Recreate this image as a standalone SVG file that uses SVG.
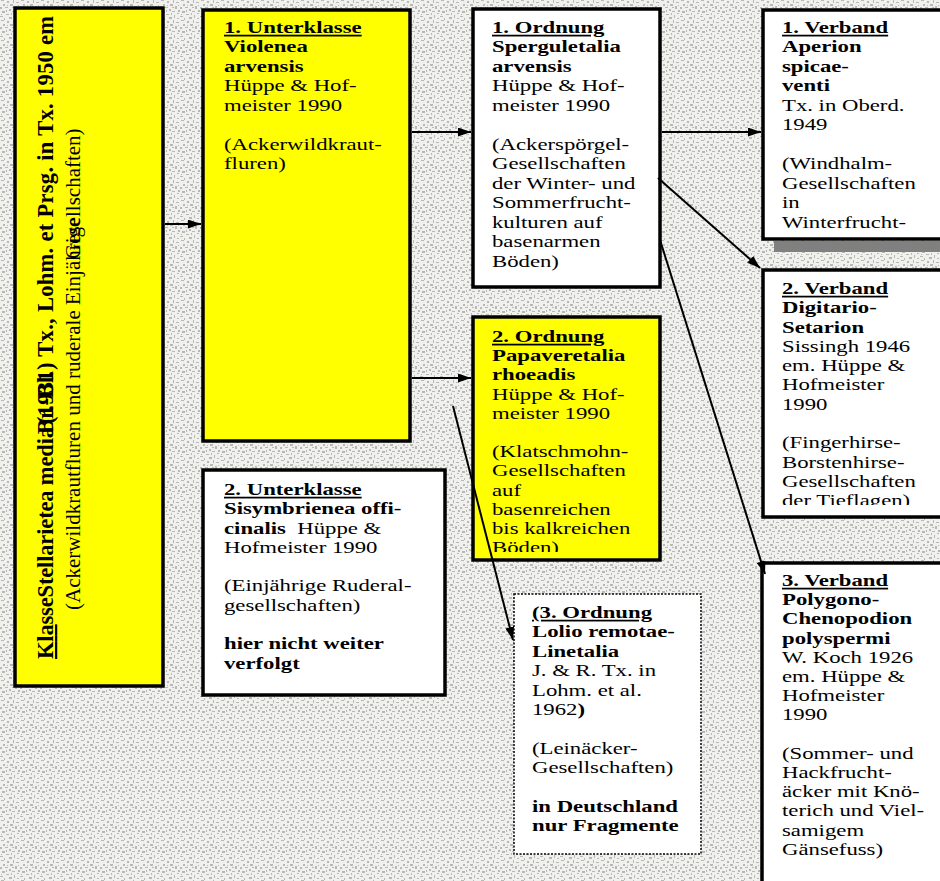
<svg xmlns="http://www.w3.org/2000/svg" width="940" height="881" viewBox="0 0 940 881">
<style>
.t{font-family:"Liberation Serif","Times New Roman",serif;font-size:17.5px;fill:#000}
.r{font-size:22.5px}
.n{font-size:21px}
.b{font-weight:bold}
.u{text-decoration:underline}
.box{stroke:#000;stroke-width:3.5}
.y{fill:#ffff00}
.w{fill:#ffffff}
.conn line{stroke:#000;stroke-width:2;fill:none;marker-end:url(#ah)}
</style>
<defs>
<pattern id="bg" width="20" height="20" patternUnits="userSpaceOnUse">
<rect width="20" height="20" fill="#f0f0ee"/>
<g fill="#b9b9b1">
<rect x="1" y="0" width="3" height="1"/><rect x="7" y="1" width="2" height="2"/><rect x="13" y="0" width="1" height="3"/>
<rect x="16" y="2" width="3" height="1"/><rect x="3" y="4" width="2" height="2"/><rect x="10" y="4" width="3" height="2"/>
<rect x="0" y="7" width="2" height="2"/><rect x="5" y="7" width="3" height="1"/><rect x="15" y="6" width="2" height="3"/>
<rect x="9" y="9" width="2" height="2"/><rect x="2" y="11" width="3" height="2"/><rect x="12" y="11" width="3" height="1"/>
<rect x="18" y="10" width="2" height="2"/><rect x="6" y="14" width="3" height="1"/><rect x="14" y="15" width="1" height="3"/>
<rect x="0" y="16" width="3" height="1"/><rect x="9" y="17" width="3" height="2"/><rect x="17" y="18" width="2" height="1"/>
<rect x="4" y="18" width="1" height="2"/><rect x="11" y="13" width="1" height="2"/><rect x="7" y="5" width="1" height="1"/>
<rect x="17" y="13" width="2" height="1"/><rect x="1" y="14" width="1" height="1"/><rect x="12" y="7" width="2" height="1"/>
<rect x="6" y="10" width="1" height="2"/><rect x="18" y="5" width="1" height="1"/>
</g>
</pattern>
<marker id="ah" markerUnits="userSpaceOnUse" markerWidth="13" markerHeight="9" refX="13" refY="4.5" orient="auto">
<path d="M0,0 L13,4.5 L0,9 z" fill="#000"/>
</marker>
<clipPath id="ck"><rect x="17" y="10" width="144" height="674"/></clipPath>
<clipPath id="cv2"><rect x="765" y="272" width="175" height="233"/></clipPath>
<clipPath id="co2"><rect x="475" y="319" width="183" height="233"/></clipPath>
</defs>
<rect width="940" height="881" fill="url(#bg)"/>

<g id="klasse">
<rect class="box y" x="15" y="8" width="148" height="678"/>
<g clip-path="url(#ck)">
<text class="t r b" transform="translate(53,659) rotate(-90)" textLength="232" lengthAdjust="spacing"><tspan class="u">Kla</tspan>sseStellarietea media</text>
<text class="t r b" transform="translate(53,434) rotate(-90)">Br.-Bl.</text>
<text class="t r b" transform="translate(53,424) rotate(-90)" textLength="408" lengthAdjust="spacing">(1931) Tx., Lohm. et Prsg. in Tx. 1950 em</text>
<text class="t n" transform="translate(80,610) rotate(-90)">(Ackerwildkrautfluren und ruderale Einjährige</text>
<text class="t n" transform="translate(80,259) rotate(-90)">Gesellschaften)</text>
</g>
</g>

<g id="unterklasse1">
<rect class="box y" x="203" y="10" width="207" height="431"/>
<text class="t" transform="translate(224,33) scale(1.3,1)">
<tspan x="0" class="b u">1. Unterklasse</tspan>
<tspan x="0" dy="19.5" class="b">Violenea</tspan>
<tspan x="0" dy="19.5" class="b">arvensis</tspan>
<tspan x="0" dy="19.5">Hüppe &amp; Hof-</tspan>
<tspan x="0" dy="19.5">meister 1990</tspan>
<tspan x="0" dy="39">(Ackerwildkraut-</tspan>
<tspan x="0" dy="19.5">fluren)</tspan>
</text>
</g>

<g id="ordnung1">
<rect class="box w" x="473" y="9" width="187" height="278"/>
<text class="t" transform="translate(492,33) scale(1.3,1)">
<tspan x="0" class="b u">1. Ordnung</tspan>
<tspan x="0" dy="19.5" class="b">Sperguletalia</tspan>
<tspan x="0" dy="19.5" class="b">arvensis</tspan>
<tspan x="0" dy="19.5">Hüppe &amp; Hof-</tspan>
<tspan x="0" dy="19.5">meister 1990</tspan>
<tspan x="0" dy="39">(Ackerspörgel-</tspan>
<tspan x="0" dy="19.5">Gesellschaften</tspan>
<tspan x="0" dy="19.5">der Winter- und</tspan>
<tspan x="0" dy="19.5">Sommerfrucht-</tspan>
<tspan x="0" dy="19.5">kulturen auf</tspan>
<tspan x="0" dy="19.5">basenarmen</tspan>
<tspan x="0" dy="19.5">Böden)</tspan>
</text>
</g>

<g id="verband1">
<rect x="774" y="241" width="180" height="11" fill="#808080"/>
<rect class="box w" x="763" y="10" width="200" height="229"/>
<text class="t" transform="translate(782,33) scale(1.3,1)">
<tspan x="0" class="b u">1. Verband</tspan>
<tspan x="0" dy="19.5" class="b">Aperion</tspan>
<tspan x="0" dy="19.5" class="b">spicae-</tspan>
<tspan x="0" dy="19.5" class="b">venti</tspan>
<tspan x="0" dy="19.5">Tx. in Oberd.</tspan>
<tspan x="0" dy="19.5">1949</tspan>
<tspan x="0" dy="39">(Windhalm-</tspan>
<tspan x="0" dy="19.5">Gesellschaften</tspan>
<tspan x="0" dy="19.5">in</tspan>
<tspan x="0" dy="19.5">Winterfrucht-</tspan>
</text>
</g>

<g id="verband2">
<rect class="box w" x="763" y="270" width="200" height="247"/>
<g clip-path="url(#cv2)">
<text class="t" transform="translate(782,294) scale(1.3,1)">
<tspan x="0" class="b u">2. Verband</tspan>
<tspan x="0" dy="19.3" class="b">Digitario-</tspan>
<tspan x="0" dy="19.3" class="b">Setarion</tspan>
<tspan x="0" dy="19.3">Sissingh 1946</tspan>
<tspan x="0" dy="19.3">em. Hüppe &amp;</tspan>
<tspan x="0" dy="19.3">Hofmeister</tspan>
<tspan x="0" dy="19.3">1990</tspan>
<tspan x="0" dy="38.6">(Fingerhirse-</tspan>
<tspan x="0" dy="19.3">Borstenhirse-</tspan>
<tspan x="0" dy="19.3">Gesellschaften</tspan>
<tspan x="0" dy="19.3">der Tieflagen)</tspan>
</text>
</g>
</g>

<g id="verband3">
<rect class="box w" x="762" y="563" width="200" height="340"/>
<text class="t" transform="translate(782,586) scale(1.3,1)">
<tspan x="0" class="b u">3. Verband</tspan>
<tspan x="0" dy="19.2" class="b">Polygono-</tspan>
<tspan x="0" dy="19.2" class="b">Chenopodion</tspan>
<tspan x="0" dy="19.2" class="b">polyspermi</tspan>
<tspan x="0" dy="19.2">W. Koch 1926</tspan>
<tspan x="0" dy="19.2">em. Hüppe &amp;</tspan>
<tspan x="0" dy="19.2">Hofmeister</tspan>
<tspan x="0" dy="19.2">1990</tspan>
<tspan x="0" dy="38.4">(Sommer- und</tspan>
<tspan x="0" dy="19.2">Hackfrucht-</tspan>
<tspan x="0" dy="19.2">äcker mit Knö-</tspan>
<tspan x="0" dy="19.2">terich und Viel-</tspan>
<tspan x="0" dy="19.2">samigem</tspan>
<tspan x="0" dy="19.2">Gänsefuss)</tspan>
</text>
</g>

<g id="ordnung2">
<rect class="box y" x="473" y="317" width="187" height="243"/>
<g clip-path="url(#co2)">
<text class="t" transform="translate(492,342) scale(1.3,1)">
<tspan x="0" class="b u">2. Ordnung</tspan>
<tspan x="0" dy="19.2" class="b">Papaveretalia</tspan>
<tspan x="0" dy="19.2" class="b">rhoeadis</tspan>
<tspan x="0" dy="19.2">Hüppe &amp; Hof-</tspan>
<tspan x="0" dy="19.2">meister 1990</tspan>
<tspan x="0" dy="38.4">(Klatschmohn-</tspan>
<tspan x="0" dy="19.2">Gesellschaften</tspan>
<tspan x="0" dy="19.2">auf</tspan>
<tspan x="0" dy="19.2">basenreichen</tspan>
<tspan x="0" dy="19.2">bis kalkreichen</tspan>
<tspan x="0" dy="19.2">Böden)</tspan>
</text>
</g>
</g>

<g id="unterklasse2">
<rect class="box w" x="203" y="470" width="242" height="225"/>
<text class="t" transform="translate(224,495) scale(1.3,1)">
<tspan x="0" class="b u">2. Unterklasse</tspan>
<tspan x="0" dy="19.3" class="b">Sisymbrienea offi-</tspan>
<tspan x="0" dy="19.3" class="b">cinalis</tspan><tspan>&#160; Hüppe &amp;</tspan>
<tspan x="0" dy="19.3">Hofmeister 1990</tspan>
<tspan x="0" dy="38.6">(Einjährige Ruderal-</tspan>
<tspan x="0" dy="19.3">gesellschaften)</tspan>
<tspan x="0" dy="38.6" class="b">hier nicht weiter</tspan>
<tspan x="0" dy="19.3" class="b">verfolgt</tspan>
</text>
</g>

<g id="ordnung3">
<rect x="514" y="594" width="187" height="260" fill="#fff" stroke="#000" stroke-width="1.5" stroke-dasharray="2 1.5"/>
<text class="t" transform="translate(532,618) scale(1.3,1)">
<tspan x="0" class="b u">(3. Ordnung</tspan>
<tspan x="0" dy="19.4" class="b">Lolio remotae-</tspan>
<tspan x="0" dy="19.4" class="b">Linetalia</tspan>
<tspan x="0" dy="19.4">J. &amp; R. Tx. in</tspan>
<tspan x="0" dy="19.4">Lohm. et al.</tspan>
<tspan x="0" dy="19.4">1962</tspan><tspan class="b">)</tspan>
<tspan x="0" dy="38.8">(Leinäcker-</tspan>
<tspan x="0" dy="19.4">Gesellschaften)</tspan>
<tspan x="0" dy="38.8" class="b">in Deutschland</tspan>
<tspan x="0" dy="19.4" class="b">nur Fragmente</tspan>
</text>
</g>

<g id="connectors" class="conn">
<line x1="165" y1="224" x2="201" y2="224"/>
<line x1="412" y1="132" x2="471" y2="132"/>
<line x1="412" y1="378" x2="471" y2="378"/>
<line x1="662" y1="132" x2="761" y2="132"/>
<line x1="658" y1="178" x2="760" y2="268"/>
<line x1="660" y1="240" x2="765" y2="574"/>
<line x1="453" y1="406" x2="513" y2="640"/>
</g>
</svg>
